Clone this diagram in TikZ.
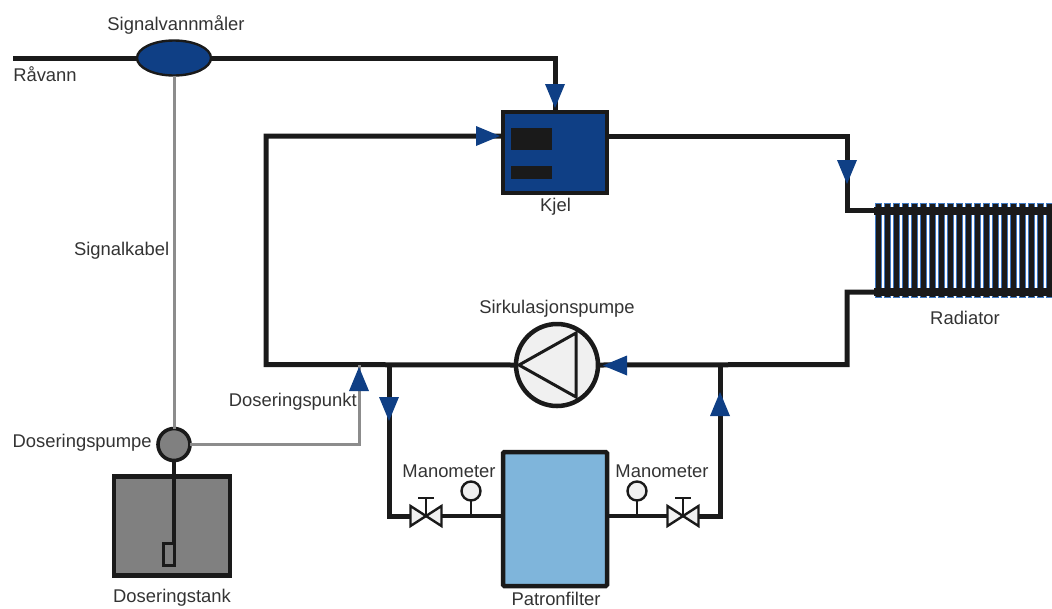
\documentclass[tikz,border=0pt]{standalone}
\usepackage{fontspec}
\usetikzlibrary{shapes.geometric}
\setmainfont{Liberation Sans}
\definecolor{pipe}{HTML}{1A1A1A}
\definecolor{navy}{HTML}{0F3F85}
\definecolor{radblue}{HTML}{3F78C0}
\definecolor{greyfill}{HTML}{808080}
\definecolor{greyline}{HTML}{8C8C8C}
\definecolor{filterblue}{HTML}{7FB5DB}
\definecolor{lightfill}{HTML}{F0F0F0}
\definecolor{txt}{HTML}{333333}
\def\px{0.75pt}
\tikzset{
  x=0.75pt,y=-0.75pt,
  box/.style={draw=pipe,rectangle,inner sep=0pt,outer sep=0pt},
  roundel/.style={draw=pipe,circle,inner sep=0pt,outer sep=0pt},
  mainpipe/.style={draw=pipe,line width=5*\px,line join=miter},
  thinpipe/.style={draw=pipe,line width=3.6*\px},
  signal/.style={draw=greyline,line width=3*\px,line join=miter},
  instrument/.style={draw=pipe,line width=2.4*\px,line join=miter},
  label/.style={text=txt,font=\fontsize{13.8pt}{16pt}\selectfont,inner sep=0pt},
  gap/.style={inner sep=0pt,outer sep=0pt,minimum width=31*\px,minimum height=20*\px},
  flow/.pic={\fill[navy] (0,0) -- (-24,-10) -- (-24,10) -- cycle;},
}
\begin{document}
\begin{tikzpicture}
\useasboundingbox (0,0) rectangle (1052,608);
% radiator
\foreach \i in {0,...,19}{
  \pgfmathsetmacro{\xa}{874.6+9*\i}
  \fill[radblue] (\xa,203) rectangle ++(7.6,95);
  \fill[pipe] (\xa+1,204) rectangle ++(5.8,93);
}
\fill[pipe] (874,206.5) rectangle (1052,214.5);
\fill[pipe] (874,288) rectangle (1052,295.5);
\coordinate (radin) at (875,210);
\coordinate (radout) at (875,292);
% nodes
\node[ellipse,draw=pipe,inner sep=0pt,outer sep=0pt,fill=navy,line width=2.4*\px,minimum width=74*\px,minimum height=35*\px] (meter) at (174,58) {};
\node[box,fill=navy,line width=4*\px,minimum width=104*\px,minimum height=81*\px] (kjel) at (554.5,152) {};
\node[box,fill=pipe,draw=none,minimum width=41*\px,minimum height=22*\px] (kjelA) at (531.5,139) {};
\node[box,fill=pipe,draw=none,minimum width=41*\px,minimum height=13*\px] (kjelB) at (531.5,172.5) {};
\node[roundel,fill=lightfill,line width=4.5*\px,minimum size=82*\px] (pump) at (557,365) {};
\node[box,fill=filterblue,line width=4.5*\px,minimum width=104*\px,minimum height=134*\px,rounded corners=1pt] (filter) at (555,519) {};
\node[box,fill=greyfill,line width=4.5*\px,minimum width=116*\px,minimum height=99*\px] (tank) at (172,526) {};
\node[roundel,fill=greyfill,line width=3.6*\px,minimum size=32*\px] (dosepump) at (174,444.5) {};
\node[box,fill=greyfill,line width=2.8*\px,minimum width=11*\px,minimum height=22*\px] (probe) at (169,554.5) {};
\node[gap] (valveL) at (426,516) {};
\node[gap] (valveR) at (683,516) {};
\node[roundel,fill=lightfill,line width=2.4*\px,minimum size=19*\px] (gaugeL) at (471,491) {};
\node[roundel,fill=lightfill,line width=2.4*\px,minimum size=19*\px] (gaugeR) at (637,491) {};
\coordinate (rawstart) at (13,58);
\coordinate (meterbend) at (555,58);
\coordinate (kjeltop) at (555,110);
\coordinate (kjelleft) at (501,136);
\coordinate (kjelright) at (608,136);
\coordinate (loopjoin) at (389,364.5);
\coordinate (dosepoint) at (359,364.5);
\coordinate (returnjoin) at (720,364.5);
\coordinate (tapL) at (471,516);
\coordinate (tapR) at (637,516);
% main pipes
\draw[mainpipe] (rawstart) -- (meter.west);
\draw[mainpipe] (meter.east) -- (meterbend) -- (kjeltop);
\draw[mainpipe] (kjelleft) -- (266,136) -- (266,364.5) -- (pump.west);
\draw[mainpipe] (kjelright) -- (847,136) -- (847,210) -- (radin);
\draw[mainpipe] (radout) -- (847,292) -- (847,364.5) -- (pump.east);
\draw[mainpipe] (loopjoin) -- (389,516) -- (valveL.west);
\draw[mainpipe] (returnjoin) -- (720,516) -- (valveR.east);
\draw[thinpipe] (valveL.east) -- (filter.west |- valveL);
\draw[thinpipe] (filter.east |- valveR) -- (valveR.west);
\draw[line width=4.5*\px,pipe] (dosepump.south) -- (174,543);
% signal lines
\draw[signal] (meter.south) -- (dosepump.north);
\draw[signal] (dosepump.east) -- (359,444.5) -- (dosepoint);
% gauge stems
\draw[instrument] (gaugeL.south) -- (tapL);
\draw[instrument] (gaugeR.south) -- (tapR);
% valves
\foreach \v in {valveL,valveR}{
  \draw[instrument,fill=lightfill] (\v.south west) -- (\v.center) -- (\v.north west) -- cycle;
  \draw[instrument,fill=lightfill] (\v.south east) -- (\v.center) -- (\v.north east) -- cycle;
  \draw[instrument] (\v.center) -- ++(0,-18) ++(-8,0) -- ++(16,0);
}
% pump triangle
\draw[draw=pipe,line width=3*\px,line join=miter] (519,365) -- (576,333) -- (576,397) -- cycle;
% arrows
\path (555,108) pic[rotate=-90] {flow};
\path (500,136) pic {flow};
\path (847,184) pic[rotate=-90] {flow};
\path (603,365.5) pic[rotate=180] {flow};
\path (389,421) pic[rotate=-90] {flow};
\path (359,367) pic[rotate=90] {flow};
\path (720,392) pic[rotate=90] {flow};
% labels
\node[label] (lmeter) at (176,24.5) {Signalvannmåler};
\node[label,anchor=west] (lraw) at (13,74.5) {Råvann};
\node[label,anchor=east] (lcable) at (169.5,251) {Signalkabel};
\node[label] (lkjel) at (555.5,207) {Kjel};
\node[label] (lpump) at (557,309) {Sirkulasjonspumpe};
\node[label] (lrad) at (965,318) {Radiator};
\node[label,anchor=east] (lpoint) at (357,402) {Doseringspunkt};
\node[label,anchor=east] (ldose) at (152,443) {Doseringspumpe};
\node[label] (lmanL) at (449,471) {Manometer};
\node[label] (lmanR) at (662,471) {Manometer};
\node[label] (ltank) at (172,598) {Doseringstank};
\node[label] (lfilter) at (556,599) {Patronfilter};
\end{tikzpicture}
\end{document}
